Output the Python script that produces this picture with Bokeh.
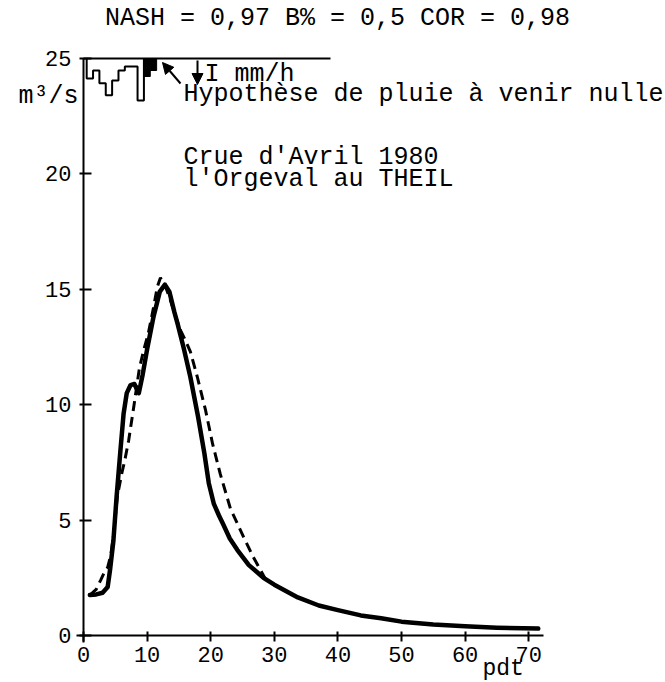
from bokeh.plotting import figure
from bokeh.models import Range1d, FixedTicker, Label, Arrow, NormalHead, LinearAxis
from bokeh.embed import file_html
from bokeh.resources import INLINE

# ---------------- data ----------------
t_obs = [1, 2, 3, 3.8, 4.2, 4.7, 5.2, 5.8, 6.3, 6.8, 7.4, 8.0, 8.7, 9.3, 10, 11, 12,
         12.8, 13.5, 14.3, 14.8, 15.8, 16.8, 18, 19, 19.7, 20.5, 21.3, 22, 23, 24.2,
         26, 28.3, 30, 33.7, 37, 40, 43.6, 46.8, 50, 55, 60, 65, 71.5]
q_obs = [1.75, 1.78, 1.85, 2.1, 2.9, 4.1, 6.0, 8.0, 9.6, 10.5, 10.85, 10.9, 10.5, 11.3,
         12.4, 13.8, 14.9, 15.2, 14.9, 14.0, 13.5, 12.4, 11.2, 9.5, 7.9, 6.6, 5.7, 5.2,
         4.8, 4.2, 3.7, 3.05, 2.5, 2.2, 1.65, 1.3, 1.1, 0.87, 0.75, 0.6, 0.48, 0.4,
         0.34, 0.3]

t_sim = [1, 2, 2.7, 3.3, 3.8, 4.3, 4.8, 5.3, 6.0, 6.5, 7.1, 7.9, 8.8, 9.5, 10.2, 11.0,
         11.6, 12.1, 12.8, 13.7, 14.5, 15.3, 16.0, 16.8, 17.9, 19.2, 20.3, 21.5, 23.1,
         25.2, 26.7, 28.6]
q_sim = [1.75, 2.0, 2.4, 2.75, 2.95, 3.5, 4.5, 6.0, 7.0, 7.6, 8.45, 9.9, 11.6, 12.4,
         13.1, 14.2, 15.1, 15.5, 15.2, 14.5, 13.8, 13.2, 12.8, 12.3, 11.2, 9.75, 8.3,
         7.0, 5.5, 4.25, 3.4, 2.45]

# rainfall (mm/h), per time step: outlined part and filled last steps
rain_t = [1, 2, 3, 4, 5, 6, 7, 8, 9]
rain_i = [2.5, 1.5, 3.1, 4.6, 2.75, 1.5, 1.0, 1.0, 5.25]
rain_t_fill = [10, 11]
rain_i_fill = [2.25, 1.5]

x_ticks = [0, 10, 20, 30, 40, 50, 60, 70]
y_ticks = [0, 5, 10, 15, 20, 25]

title_txt = "NASH = 0,97 B% = 0,5 COR = 0,98"
unit_txt = "m³/s"
rain_txt = "I mm/h"
hyp_txt = "Hypothèse de pluie à venir nulle"
crue1 = "Crue d'Avril 1980"
crue2 = "l'Orgeval au THEIL"
xlab_txt = "pdt"

# ---------------- layout ----------------
W, H = 665, 682
LEFT = 83          # canvas x of t = 0
BOTTOM = 635       # canvas y of Q = 0
PX_T = 6.36        # px per pdt
PX_Q = 23.08       # px per m3/s
PX_RAIN = 8.0      # px per mm/h
TOP_Q = 25.0

def tx(px):
    return (px - LEFT) / PX_T

def qy(py):
    return (BOTTOM - py) / PX_Q

FONT = "Liberation Mono"

p = figure(width=W, height=H, output_backend="svg", toolbar_location=None,
           x_range=Range1d(tx(0), tx(W)), y_range=Range1d(qy(H), qy(0)),
           x_axis_location=None, y_axis_location=None,
           min_border=0, min_border_left=0, min_border_right=0,
           min_border_top=0, min_border_bottom=0)
p.grid.visible = False
p.outline_line_color = None
p.background_fill_color = "white"
p.border_fill_color = "white"

top_py = BOTTOM - TOP_Q * PX_Q
p.extra_y_ranges = {"rain": Range1d(start=(H - top_py) / PX_RAIN,
                                    end=-top_py / PX_RAIN)}

xax = LinearAxis(fixed_location=0, ticker=FixedTicker(ticks=x_ticks),
                 bounds=(-1.1, 72.3))
yax = LinearAxis(fixed_location=0, ticker=FixedTicker(ticks=y_ticks),
                 bounds=(-0.3, TOP_Q))
for ax in (xax, yax):
    ax.axis_line_width = 2
    ax.axis_line_color = "black"
    ax.major_tick_line_width = 2
    ax.major_tick_line_color = "black"
    ax.minor_tick_line_color = None
    ax.major_label_text_font = FONT
    ax.major_label_text_font_size = "22px"
    ax.major_label_text_color = "black"
xax.major_tick_in = 4
xax.major_tick_out = 6
xax.major_label_standoff = 5
yax.major_tick_in = 8
yax.major_tick_out = 4
yax.major_label_standoff = 8
p.add_layout(xax, "below")
p.add_layout(yax, "left")

# top line (rain axis origin)
p.line(x=[0, tx(330)], y=[TOP_Q, TOP_Q], line_color="black", line_width=2)

# hyetograph outline
ox, oy = [], []
for c, v in zip(rain_t, rain_i):
    l, r = c - 0.5, c + 0.5
    if not ox:
        ox += [l]; oy += [0]
    ox += [l, r]; oy += [v, v]
ox += [ox[-1]]; oy += [0]
p.line(x=ox, y=oy, y_range_name="rain", line_color="black", line_width=2)
p.quad(left=[c - 0.5 for c in rain_t_fill], right=[c + 0.5 for c in rain_t_fill],
       top=[0] * len(rain_t_fill), bottom=rain_i_fill, y_range_name="rain",
       fill_color="black", line_color="black")

# curves
p.line(x=t_sim, y=q_sim, line_color="black", line_width=3, line_dash="10 6")
p.line(x=t_obs, y=q_obs, line_color="black", line_width=4.5, line_join="round",
       line_cap="round")

# arrows
p.add_layout(Arrow(end=NormalHead(size=11, fill_color="black", line_color="black"),
                   x_start=tx(180), y_start=qy(83), x_end=tx(162), y_end=qy(62),
                   line_width=2, line_color="black"))
p.add_layout(Arrow(end=NormalHead(size=11, fill_color="black", line_color="black"),
                   x_start=tx(197), y_start=qy(60), x_end=tx(197), y_end=qy(84),
                   line_width=2, line_color="black"))

def lab(text, px, py, align="left", size="25px"):
    p.add_layout(Label(x=tx(px), y=qy(py), text=text, text_font=FONT,
                       text_font_size=size, text_align=align,
                       text_baseline="alphabetic", text_color="black"))

lab(title_txt, 337, 18, align="center")
lab(unit_txt, 18, 96)
lab(rain_txt, 204, 74)
lab(hyp_txt, 183, 94)
lab(crue1, 183, 157)
lab(crue2, 183, 179)
lab(xlab_txt, 482, 668, size="23px")

open("out.html", "w").write(file_html(p, INLINE))
